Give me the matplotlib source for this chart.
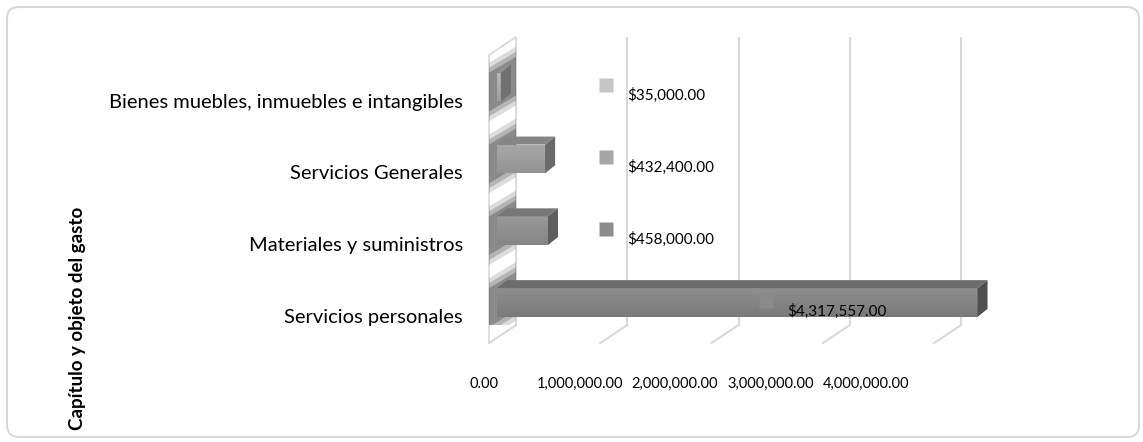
import matplotlib.pyplot as plt
import numpy as np
from matplotlib.patches import Polygon, FancyBboxPatch
from matplotlib.colors import LinearSegmentedColormap
from matplotlib import transforms

plt.rcParams['font.family'] = ['Lato', 'DejaVu Sans']

# data
categorias = ["Servicios personales", "Materiales y suministros",
              "Servicios Generales", "Bienes muebles, inmuebles e intangibles"]
montos = [4317557.00, 458000.00, 432400.00, 35000.00]
ticks_x = [0, 1000000, 2000000, 3000000, 4000000]
titulo_y = "Capítulo y objeto del gasto"

# colours: front top, front bottom, top face, side face, label square
colores = [
    ("#8e8e8e", "#7a7a7a", "#6c6c6c", "#505050", "#8a8a8a"),
    ("#9a9a9a", "#858585", "#787878", "#5e5e5e", "#8c8c8c"),
    ("#a8a8a8", "#939393", "#858585", "#6a6a6a", "#a6a6a6"),
    ("#b8b8b8", "#a0a0a0", "#909090", "#707070", "#c6c6c6"),
]

# layout in pixels
W, H = 1143, 442
ax_l, ax_r, ax_t, ax_b = 470, 1010, 37, 325
x0_px, px_per_m = 497, 111.3
y0_px, px_per_cat = 302.5, 71.8

fig = plt.figure(figsize=(W / 100, H / 100), dpi=100)
ax = fig.add_axes([ax_l / W, 1 - ax_b / H, (ax_r - ax_l) / W, (ax_b - ax_t) / H])
xmin = (ax_l - x0_px) / px_per_m * 1e6
xmax = (ax_r - x0_px) / px_per_m * 1e6
ymin = -(ax_b - y0_px) / px_per_cat
ymax = (y0_px - ax_t) / px_per_cat

sx = (xmax - xmin) / (ax_r - ax_l)   # data per pixel
sy = (ymax - ymin) / (ax_b - ax_t)

# gridlines on back wall + floor diagonals
for t in ticks_x:
    xb = t + 19 * sx
    ax.plot([xb, xb], [ymin, ymax], color="#d9d9d9", lw=1.5, zorder=1)
    ax.plot([xb, xb - 27 * sx], [ymin, ymin - 18 * sy], color="#d9d9d9",
            lw=1.5, zorder=1, clip_on=False)

# side wall
wall = Polygon([(19 * sx, ymax), (19 * sx, ymin), (-8 * sx, ymin - 18 * sy),
                (-8 * sx, ymax - 18 * sy)], closed=True, fc="white",
               ec="#d9d9d9", lw=1.2, zorder=1, clip_on=False)
ax.add_patch(wall)

h = 0.40
dx, dy = 10 * sx, 8 * sy
ys = np.arange(len(categorias))

for i, (c, v) in enumerate(zip(ys, montos)):
    ftop, fbot, ctop, cside, csq = colores[i]
    # shadow on the wall
    for k, a in enumerate([0.18, 0.25, 0.35]):
        grow = (2 - k) * 5
        sh = Polygon([(19 * sx, c + h / 2 + (16 + grow) * sy),
                      (19 * sx, c - h / 2 + (6 - grow) * sy),
                      (-8 * sx, c - h / 2 - (10 + grow) * sy),
                      (-8 * sx, c + h / 2 + (0 + grow) * sy)],
                     closed=True, fc="#404040", ec="none", alpha=a, zorder=2)
        ax.add_patch(sh)
    bar = ax.barh(c, v, height=h, color=fbot, zorder=4)[0]
    grad = np.linspace(0, 1, 50).reshape(-1, 1)
    cm = LinearSegmentedColormap.from_list("g", [fbot, ftop])
    im = ax.imshow(grad, extent=(0, v, c - h / 2, c + h / 2), cmap=cm,
                   aspect="auto", origin="lower", zorder=4)
    im.set_clip_path(bar)
    top = Polygon([(0, c + h / 2), (v, c + h / 2), (v + dx, c + h / 2 + dy),
                   (dx, c + h / 2 + dy)], closed=True, fc=ctop, ec="none", zorder=5)
    side = Polygon([(v, c - h / 2), (v, c + h / 2), (v + dx, c + h / 2 + dy),
                    (v + dx, c - h / 2 + dy)], closed=True, fc=cside, ec="none", zorder=5)
    ax.add_patch(top)
    ax.add_patch(side)
    # data label
    xl = max(v * 0.5 + 0.26e6, 0.98e6)
    ax.plot(xl, c + 2 * sy, marker="s", ms=10, color=csq, mec="none", zorder=6)
    ax.text(xl + 21 * sx, c - 13 * sy, "${:,.2f}".format(v), fontsize=11,
            ha="left", va="baseline", zorder=7)

ax.set_xlim(xmin, xmax)
ax.set_ylim(ymin, ymax)
for s in ax.spines.values():
    s.set_visible(False)
ax.set_xticks([])
ax.set_yticks(ys)
ax.set_yticklabels(categorias, fontsize=14.5)
ax.tick_params(axis="y", length=0, pad=5)
off = transforms.ScaledTranslation(0, -13.5 / 100, fig.dpi_scale_trans)
for lab in ax.get_yticklabels():
    lab.set_transform(lab.get_transform() + off)

# x tick labels (front plane, squeezed like the original)
p0 = (484 - x0_px) / px_per_m * 1e6
p4 = (866 - x0_px) / px_per_m * 1e6
k = (p4 - p0) / 4e6
sec = ax.secondary_xaxis(-0.16, functions=(lambda p: (p - p0) / k,
                                           lambda v: v * k + p0))
sec.set_xticks(ticks_x)
sec.set_xticklabels(["{:,.2f}".format(t) for t in ticks_x], fontsize=10.5)
sec.tick_params(length=0, pad=4)
sec.spines["bottom"].set_visible(False)

fig.text(77 / W, 1 - 318 / H, titulo_y, rotation=90, ha="center", va="center",
         fontsize=13.5, fontweight="bold")

border = FancyBboxPatch((7, 5), 1132, 430, boxstyle="round,pad=0,rounding_size=12",
                        transform=transforms.IdentityTransform(), fill=False,
                        ec="#d9d9d9", lw=1.5)
fig.add_artist(border)

fig.savefig("out.png", dpi=100)
